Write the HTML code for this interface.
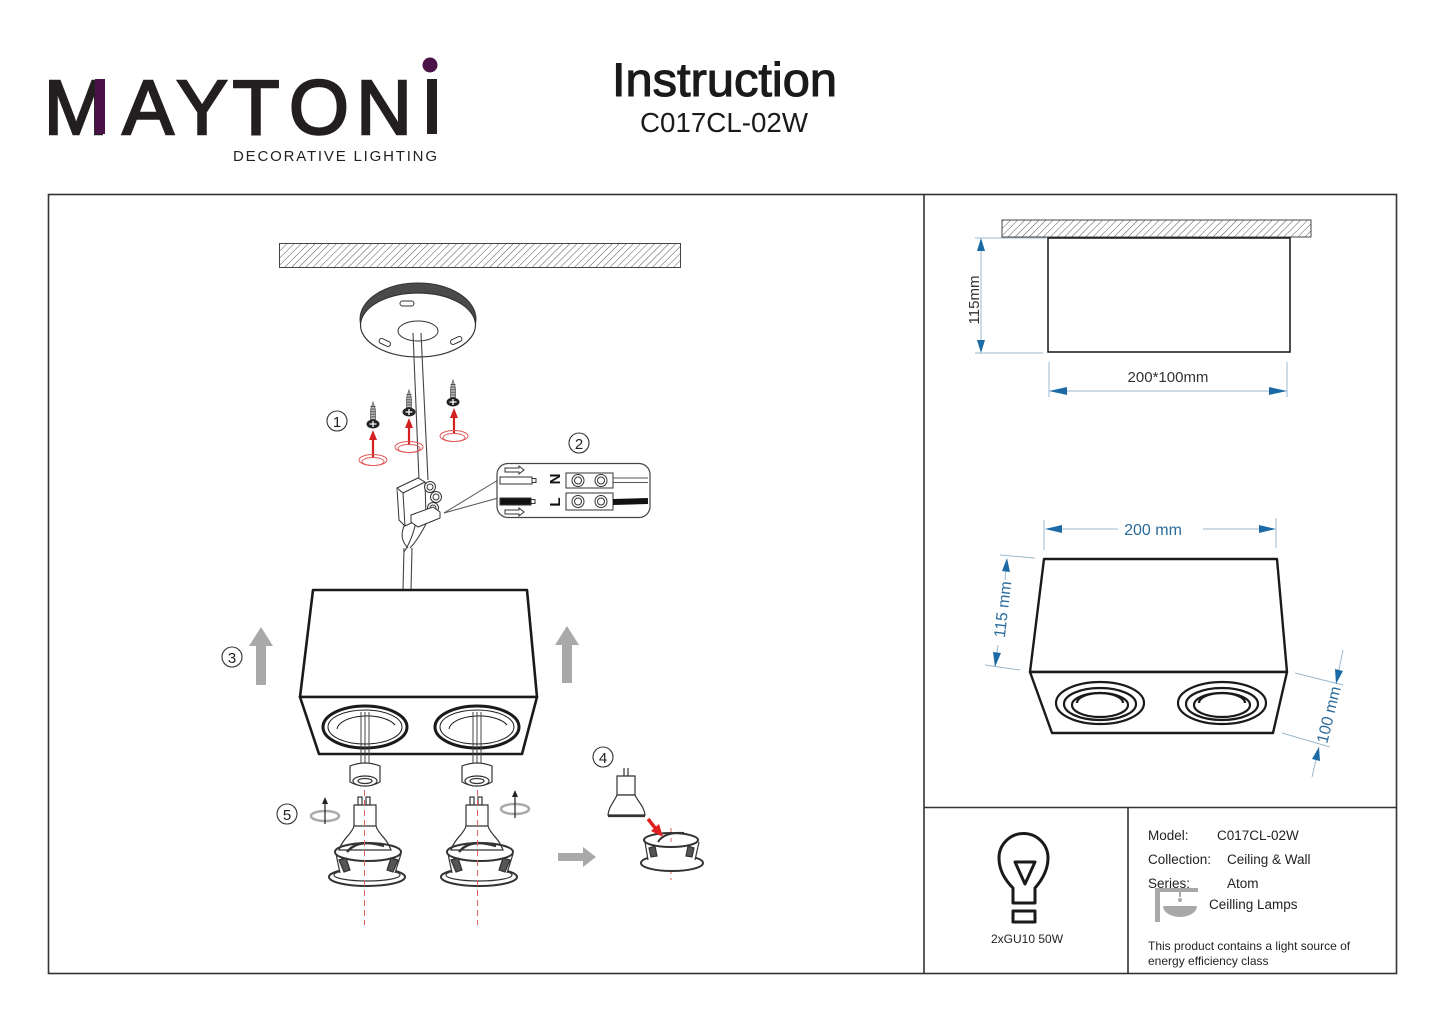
<!DOCTYPE html>
<html><head><meta charset="utf-8"><style>
html,body{margin:0;padding:0;background:#fff;}
svg{display:block;font-family:"Liberation Sans",Arial,sans-serif;}
</style></head><body>
<svg width="1445" height="1022" viewBox="0 0 1445 1022" xmlns="http://www.w3.org/2000/svg">
<defs>
<pattern id="hatch" patternUnits="userSpaceOnUse" width="5" height="5" patternTransform="rotate(45)">
<line x1="0" y1="0" x2="0" y2="5" stroke="#555" stroke-width="1"/>
</pattern>
</defs>
<rect width="1445" height="1022" fill="#fff"/>

<!-- Logo -->
<g fill="#231f20" stroke="#231f20" stroke-width="2.4" font-size="77" text-anchor="middle">
<text y="134"><tspan x="76">M</tspan><tspan x="148">A</tspan><tspan x="202">Y</tspan><tspan x="256">T</tspan><tspan x="319">O</tspan><tspan x="384">N</tspan></text>
</g>
<rect x="427" y="79" width="10" height="55" fill="#231f20"/>
<rect x="95" y="79" width="10" height="55" fill="#4b1248"/>
<circle cx="430" cy="65" r="7.5" fill="#4b1248"/>
<text x="233" y="161" font-size="15" fill="#231f20" textLength="204" lengthAdjust="spacing">DECORATIVE LIGHTING</text>

<!-- Title -->
<text x="612" y="96" font-size="47" fill="#1a1a1a" stroke="#1a1a1a" stroke-width="1.1" textLength="225" lengthAdjust="spacingAndGlyphs">Instruction</text>
<text x="724" y="132" font-size="28" fill="#1a1a1a" text-anchor="middle" textLength="168" lengthAdjust="spacingAndGlyphs">C017CL-02W</text>

<!-- Frame -->
<g stroke="#333" stroke-width="1.6" fill="none">
<rect x="48.5" y="194.5" width="1348" height="779"/>
<line x1="924" y1="194" x2="924" y2="973"/>
<line x1="924" y1="807.5" x2="1396" y2="807.5"/>
<line x1="1128" y1="807" x2="1128" y2="973"/>
</g>

<!-- ===== Left diagram ===== -->
<rect x="279.5" y="243.5" width="401" height="24" fill="url(#hatch)" stroke="#444" stroke-width="1"/>

<!-- ceiling plate -->
<ellipse cx="418" cy="319" rx="58" ry="36" fill="#4a4a4a" stroke="#333"/>
<ellipse cx="418" cy="325" rx="57.5" ry="32" fill="#fff" stroke="#333" stroke-width="1.2"/>
<ellipse cx="418" cy="331" rx="20" ry="10" fill="#fff" stroke="#333"/>
<rect x="400" y="301" width="14" height="5" rx="2.5" fill="#fff" stroke="#333"/>
<rect x="379" y="340" width="12" height="5" rx="2.5" fill="#fff" stroke="#333" transform="rotate(25 385 342)"/>
<rect x="450" y="338" width="12" height="5" rx="2.5" fill="#fff" stroke="#333" transform="rotate(-25 456 340)"/>

<!-- cable -->
<g stroke="#444" stroke-width="1.1" fill="none">
<path d="M413,333 Q416,400 419,480"/>
<path d="M421,333 Q424,400 428,480"/>
<path d="M404,548 L403,590"/>
<path d="M412,548 L411,590"/>
<path d="M405,524 Q398,538 408,548"/>
<path d="M416,522 Q412,540 404,552"/>
<path d="M428,520 Q418,540 410,548"/>
</g>
<!-- terminal block -->
<g stroke="#333" stroke-width="1" fill="#fff">
<path d="M397,488 L418,478 L425,482 L426,516 L405,526 L399,520 Z"/>
<path d="M397,488 L403,493 L405,526"/>
<path d="M403,493 L425,482"/>
<circle cx="430" cy="487" r="5.5"/><circle cx="430" cy="487" r="3"/>
<circle cx="436" cy="497" r="5.5"/><circle cx="436" cy="497" r="3"/>
<circle cx="433" cy="508" r="5.5"/><circle cx="433" cy="508" r="3"/>
<path d="M411,515 L433,507 L440,512 L440,518 L418,527 L411,522 Z"/>
</g>
<g stroke="#555" stroke-width="1" fill="none">
<line x1="444" y1="513" x2="498" y2="480"/>
<line x1="444" y1="513" x2="498" y2="498"/>
</g>

<!-- connector inset -->
<rect x="497" y="463.5" width="153" height="54" rx="11" fill="#fff" stroke="#444" stroke-width="1.2"/>
<g stroke="#333" stroke-width="1" fill="#fff">
<rect x="500" y="477" width="32" height="7"/>
<rect x="532" y="478.5" width="4" height="4"/>
<rect x="500" y="498" width="31" height="7" fill="#111"/>
<rect x="531" y="499.5" width="4" height="4"/>
<path d="M505,468 L519,468 L519,466 L524,470 L519,474 L519,472 L505,472 Z"/>
<path d="M505,510 L519,510 L519,508 L524,512 L519,516 L519,514 L505,514 Z"/>
<rect x="566" y="473" width="47" height="15"/>
<circle cx="578" cy="480.5" r="6"/><circle cx="578" cy="480.5" r="3.5"/>
<circle cx="601" cy="480.5" r="6"/><circle cx="601" cy="480.5" r="3.5"/>
<rect x="566" y="493" width="47" height="17"/>
<circle cx="578" cy="501.5" r="6"/><circle cx="578" cy="501.5" r="3.5"/>
<circle cx="601" cy="501.5" r="6"/><circle cx="601" cy="501.5" r="3.5"/>
</g>
<line x1="613" y1="478" x2="648" y2="478" stroke="#555"/>
<line x1="613" y1="482.5" x2="648" y2="482.5" stroke="#555"/>
<path d="M613,502 L648,501" stroke="#111" stroke-width="6" fill="none"/>
<text x="0" y="0" font-size="15" font-weight="bold" fill="#111" transform="translate(560,479) rotate(-90)" text-anchor="middle">N</text>
<text x="0" y="0" font-size="15" font-weight="bold" fill="#111" transform="translate(560,502) rotate(-90)" text-anchor="middle">L</text>

<!-- screws -->
<g>
<path d="M373,402 L375.5,410 L375.5,420 L370.5,420 L370.5,410 Z" fill="#bbb" stroke="#666" stroke-width="0.8"/>
<line x1="373" y1="406" x2="373" y2="420" stroke="#555" stroke-width="5" stroke-dasharray="1 1.6"/>
<ellipse cx="373" cy="424" rx="6.5" ry="4.5" fill="#222"/>
<path d="M369.5,424 H376.5 M373,421 V427" stroke="#fff" stroke-width="1.3"/>
<path d="M409,390 L411.5,398 L411.5,408 L406.5,408 L406.5,398 Z" fill="#bbb" stroke="#666" stroke-width="0.8"/>
<line x1="409" y1="394" x2="409" y2="408" stroke="#555" stroke-width="5" stroke-dasharray="1 1.6"/>
<ellipse cx="409" cy="412" rx="6.5" ry="4.5" fill="#222"/>
<path d="M405.5,412 H412.5 M409,409 V415" stroke="#fff" stroke-width="1.3"/>
<path d="M453,380 L455.5,388 L455.5,398 L450.5,398 L450.5,388 Z" fill="#bbb" stroke="#666" stroke-width="0.8"/>
<line x1="453" y1="384" x2="453" y2="398" stroke="#555" stroke-width="5" stroke-dasharray="1 1.6"/>
<ellipse cx="453" cy="402" rx="6.5" ry="4.5" fill="#222"/>
<path d="M449.5,402 H456.5 M453,399 V405" stroke="#fff" stroke-width="1.3"/>
</g>
<g stroke="#d42020" fill="#d42020">
<line x1="373" y1="458" x2="373" y2="438" stroke-width="2.2"/>
<polygon points="373,430 369,440 377,440" stroke="none"/>
<line x1="409" y1="444" x2="409" y2="426" stroke-width="2.2"/>
<polygon points="409,418 405,428 413,428" stroke="none"/>
<line x1="454" y1="433" x2="454" y2="416" stroke-width="2.2"/>
<polygon points="454,408 450,418 458,418" stroke="none"/>
</g>
<g stroke="#e05858" fill="none" stroke-width="1">
<ellipse cx="373" cy="460" rx="14" ry="5.5"/><ellipse cx="373" cy="461.5" rx="11" ry="4"/>
<ellipse cx="409" cy="447" rx="14" ry="5.5"/><ellipse cx="409" cy="448.5" rx="11" ry="4"/>
<ellipse cx="454" cy="436" rx="14" ry="5.5"/><ellipse cx="454" cy="437.5" rx="11" ry="4"/>
</g>

<!-- step numbers -->
<g stroke="#333" stroke-width="1.1" fill="none">
<circle cx="337" cy="421" r="10"/>
<circle cx="579" cy="443" r="10"/>
<circle cx="232" cy="657" r="10"/>
<circle cx="603" cy="757" r="10"/>
<circle cx="287" cy="814" r="10"/>
</g>
<g font-size="15" fill="#222" text-anchor="middle">
<text x="337" y="427">1</text>
<text x="579" y="449">2</text>
<text x="232" y="663">3</text>
<text x="603" y="763">4</text>
<text x="287" y="820">5</text>
</g>

<!-- gray arrows -->
<g fill="#a9a9a9">
<rect x="256" y="644" width="10" height="41"/>
<polygon points="261,627 249,646 273,646"/>
<rect x="562" y="643" width="10" height="40"/>
<polygon points="567,626 555,645 579,645"/>
<rect x="558" y="853" width="26" height="8"/>
<polygon points="596,857 583,847 583,867"/>
</g>

<!-- fixture box -->
<g stroke="#1a1a1a" stroke-width="2.6" fill="#fff" stroke-linejoin="round">
<polygon points="313,590 527,590 537,697 300,697"/>
<polygon points="300,697 537,697 522,754 319,754"/>
</g>
<g fill="none" stroke="#1a1a1a">
<ellipse cx="365" cy="727" rx="42" ry="21" stroke-width="3"/>
<ellipse cx="365" cy="727" rx="37" ry="17" stroke-width="1"/>
<path d="M337,729 A30 14 0 0 1 395,725" stroke-width="1"/>
<ellipse cx="477" cy="727" rx="42" ry="21" stroke-width="3"/>
<ellipse cx="477" cy="727" rx="37" ry="17" stroke-width="1"/>
<path d="M449,729 A30 14 0 0 1 507,725" stroke-width="1"/>
</g>
<g stroke="#444" stroke-width="1" fill="none">
<line x1="361" y1="712" x2="361" y2="765"/><line x1="365" y1="712" x2="365" y2="765"/><line x1="369" y1="712" x2="369" y2="765"/>
<line x1="473" y1="712" x2="473" y2="765"/><line x1="477" y1="712" x2="477" y2="765"/><line x1="481" y1="712" x2="481" y2="765"/>
</g>
<!-- sockets -->
<g stroke="#333" stroke-width="1.2" fill="#fff">
<path d="M350,766 Q365,760 380,766 L380,782 Q365,790 350,782 Z"/>
<ellipse cx="365" cy="781" rx="12" ry="5"/><ellipse cx="365" cy="781" rx="7" ry="2.5"/>
<path d="M462,766 Q477,760 492,766 L492,782 Q477,790 462,782 Z"/>
<ellipse cx="477" cy="781" rx="12" ry="5"/><ellipse cx="477" cy="781" rx="7" ry="2.5"/>
</g>

<!-- lamps -->
<g stroke="#333" stroke-width="1.2" fill="#fff">
<rect x="358" y="797" width="4" height="8"/><rect x="366" y="797" width="4" height="8"/>
<path d="M354,805 L376,805 L376,826 Q365,830 354,826 Z"/>
<path d="M354,826 C352,834 343,838 339,850 L391,850 C387,838 378,834 376,826 Z"/>
<ellipse cx="367" cy="877" rx="38" ry="9" stroke-width="2"/>
<ellipse cx="367" cy="875" rx="33" ry="6"/>
<path d="M336,854 L340,873 Q367,880 395,873 L401,854 Z" stroke="none"/>
<line x1="336" y1="854" x2="340" y2="873"/><line x1="401" y1="854" x2="395" y2="873"/>
<ellipse cx="368" cy="852" rx="33" ry="9" stroke-width="2" fill="none"/>
<path d="M347,852 Q358,838 384,846" fill="none" stroke-width="2.5"/>
<path d="M339,860 L346,858 L350,870 L344,872 Z" fill="#555"/>
<path d="M398,860 L391,858 L387,870 L393,872 Z" fill="#555"/>
<rect x="470" y="797" width="4" height="8"/><rect x="478" y="797" width="4" height="8"/>
<path d="M466,805 L488,805 L488,826 Q477,830 466,826 Z"/>
<path d="M466,826 C464,834 455,838 451,850 L503,850 C499,838 490,834 488,826 Z"/>
<ellipse cx="479" cy="877" rx="38" ry="9" stroke-width="2"/>
<ellipse cx="479" cy="875" rx="33" ry="6"/>
<path d="M448,854 L452,873 Q479,880 507,873 L513,854 Z" stroke="none"/>
<line x1="448" y1="854" x2="452" y2="873"/><line x1="513" y1="854" x2="507" y2="873"/>
<ellipse cx="480" cy="852" rx="33" ry="9" stroke-width="2" fill="none"/>
<path d="M459,852 Q470,838 496,846" fill="none" stroke-width="2.5"/>
<path d="M451,860 L458,858 L462,870 L456,872 Z" fill="#555"/>
<path d="M510,860 L503,858 L499,870 L505,872 Z" fill="#555"/>
</g>
<g stroke="#e06060" stroke-width="1" stroke-dasharray="6 4">
<line x1="364.5" y1="790" x2="364.5" y2="925"/>
<line x1="477.5" y1="790" x2="477.5" y2="925"/>
<line x1="671" y1="828" x2="671" y2="880"/>
</g>

<!-- rotation symbols -->
<g fill="none" stroke="#aaa" stroke-width="2.5">
<ellipse cx="325" cy="816" rx="14" ry="5"/>
<ellipse cx="515" cy="809" rx="14" ry="5"/>
</g>
<g stroke="#222" stroke-width="1.2" fill="#222">
<line x1="325" y1="803" x2="325" y2="824"/><polygon points="325,797 322,804 328,804" stroke="none"/>
<line x1="515" y1="796" x2="515" y2="818"/><polygon points="515,790 512,797 518,797" stroke="none"/>
</g>

<!-- step 4 -->
<g stroke="#333" stroke-width="1.2" fill="#fff">
<line x1="624" y1="768" x2="624" y2="776"/><line x1="628" y1="768" x2="628" y2="776"/>
<path d="M617,776 L635,776 L635,795 L617,795 Z"/>
<path d="M617,795 C614,802 609,806 608,815 L645,815 C644,806 638,802 635,795 Z"/>
<line x1="608" y1="816" x2="645" y2="816" stroke-width="2.2"/>
<ellipse cx="672" cy="863" rx="31" ry="8" stroke-width="2"/>
<path d="M645,842 L648,860 Q672,867 695,860 L699,842 Z" stroke="none"/>
<line x1="645" y1="842" x2="648" y2="860"/><line x1="699" y1="842" x2="695" y2="860"/>
<ellipse cx="671" cy="840" rx="27" ry="7" stroke-width="2" fill="none"/>
<path d="M658,842 Q664,832 684,833" fill="none" stroke-width="2"/>
<path d="M649,848 L655,846 L657,856 L651,857 Z" fill="#555"/>
<path d="M694,848 L688,846 L686,856 L692,857 Z" fill="#555"/>
</g>
<line x1="648" y1="819" x2="656" y2="829" stroke="#e02020" stroke-width="3.5"/>
<polygon points="663,837 651,831 659,824" fill="#e02020"/>

<!-- ===== Right top: side view ===== -->
<rect x="1002" y="220" width="309" height="17" fill="url(#hatch)" stroke="#444" stroke-width="1"/>
<rect x="1048" y="238" width="242" height="114" fill="#fff" stroke="#222" stroke-width="1.6"/>
<g stroke="#9bb8cc" stroke-width="1">
<line x1="975" y1="238" x2="1046" y2="238"/>
<line x1="975" y1="353" x2="1043" y2="353"/>
<line x1="981" y1="240" x2="981" y2="351"/>
<line x1="1049" y1="362" x2="1049" y2="397"/>
<line x1="1287" y1="362" x2="1287" y2="397"/>
<line x1="1050" y1="391" x2="1286" y2="391"/>
</g>
<g fill="#1b6aa5">
<polygon points="981,238 977,251 985,251"/>
<polygon points="981,353 977,340 985,340"/>
<polygon points="1049,391 1067,387 1067,395"/>
<polygon points="1287,391 1269,387 1269,395"/>
</g>
<text x="0" y="0" font-size="15" fill="#333" text-anchor="middle" transform="translate(979,300) rotate(-90)">115mm</text>
<text x="1168" y="382" font-size="15" fill="#333" text-anchor="middle">200*100mm</text>

<!-- ===== Right middle: 3D box ===== -->
<g stroke="#1a1a1a" stroke-width="2.4" fill="#fff" stroke-linejoin="round">
<polygon points="1044,559 1277,559 1287,672 1030,672"/>
<polygon points="1030,672 1287,672 1273,733 1052,733"/>
</g>
<g fill="none" stroke="#1a1a1a" stroke-width="2.2">
<ellipse cx="1100" cy="703" rx="44" ry="21"/>
<ellipse cx="1100" cy="704" rx="36" ry="16"/>
<ellipse cx="1100" cy="705" rx="28" ry="12"/>
<path d="M1077,703 A23 10 0 0 1 1123,703"/>
<ellipse cx="1222" cy="703" rx="44" ry="21"/>
<ellipse cx="1222" cy="704" rx="36" ry="16"/>
<ellipse cx="1222" cy="705" rx="28" ry="12"/>
<path d="M1199,703 A23 10 0 0 1 1245,703"/>
</g>
<g stroke="#9bb8cc" stroke-width="1">
<line x1="1044" y1="520" x2="1044" y2="550"/>
<line x1="1276" y1="518" x2="1276" y2="548"/>
<line x1="1046" y1="529" x2="1118" y2="529"/>
<line x1="1203" y1="529" x2="1274" y2="529"/>
<line x1="1000" y1="555" x2="1035" y2="558"/>
<line x1="985" y1="665" x2="1020" y2="670"/>
<line x1="1007" y1="560" x2="1005" y2="580"/>
<line x1="998" y1="645" x2="995" y2="667"/>
<line x1="1295" y1="673" x2="1343" y2="685"/>
<line x1="1282" y1="733" x2="1330" y2="747"/>
<line x1="1343" y1="650" x2="1336" y2="684"/>
<line x1="1319" y1="747" x2="1312" y2="777"/>
</g>
<g fill="#1b6aa5">
<polygon points="1045,529 1062,525 1062,533"/>
<polygon points="1276,529 1259,525 1259,533"/>
<polygon points="1007,558 1010,572 1002,571"/>
<polygon points="995,667 1001,653 993,652"/>
<polygon points="1336,684 1343,671 1335,669"/>
<polygon points="1319,747 1320,761 1312,759"/>
</g>
<text x="1153" y="535" font-size="16" fill="#2a6b9c" text-anchor="middle">200 mm</text>
<text x="0" y="0" font-size="16" fill="#2a6b9c" text-anchor="middle" transform="translate(1008,610) rotate(-83.3)">115 mm</text>
<text x="0" y="0" font-size="16" fill="#2a6b9c" text-anchor="middle" transform="translate(1334,716) rotate(-76.3)">100 mm</text>

<!-- ===== Bottom info ===== -->
<g fill="none" stroke="#1a1a1a" stroke-width="3" stroke-linejoin="round">
<path d="M1013,903 L1013,888 C1005,880 999,870 999,858 A24.5 24.5 0 0 1 1048,858 C1048,870 1042,880 1035,888 L1035,903 Z"/>
<polygon points="1015,862 1035,862 1025,884"/>
<rect x="1013" y="911" width="22" height="11"/>
</g>
<text x="1027" y="943" font-size="12" fill="#222" text-anchor="middle">2xGU10 50W</text>

<g font-size="13.5" fill="#222">
<text x="1148" y="840">Model:</text>
<text x="1217" y="840">C017CL-02W</text>
<text x="1148" y="864">Collection:</text>
<text x="1227" y="864">Ceiling &amp; Wall</text>
<text x="1148" y="888">Series:</text>
<text x="1227" y="888">Atom</text>
<text x="1209" y="909">Ceilling Lamps</text>
</g>
<g fill="#a8a8a8">
<rect x="1155" y="888" width="43" height="4"/>
<rect x="1155" y="888" width="5" height="34"/>
<rect x="1179" y="892" width="2" height="5"/>
<circle cx="1180" cy="900" r="2"/>
<path d="M1163,906 L1197,906 A17 11 0 0 1 1163,906 Z"/>
</g>
<g font-size="12" fill="#222">
<text x="1148" y="950">This product contains a light source of</text>
<text x="1148" y="965">energy efficiency class</text>
</g>
</svg>
</body></html>
